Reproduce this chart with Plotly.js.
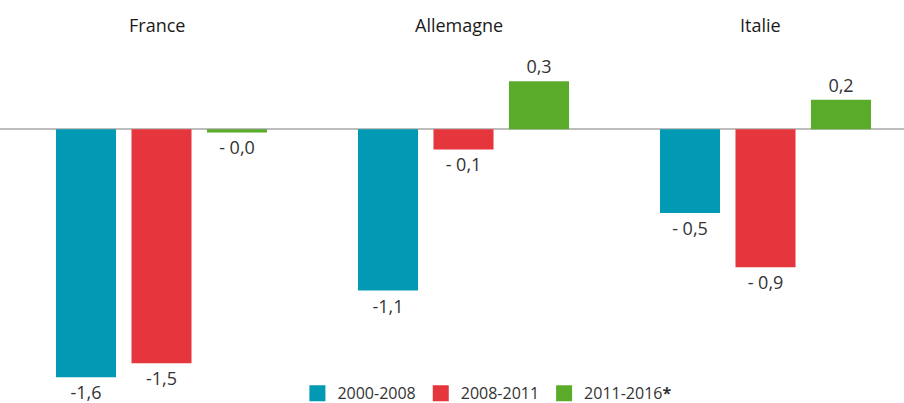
<!DOCTYPE html>
<html>
<head>
<meta charset="utf-8">
<script src="https://cdn.plot.ly/plotly-3.0.1.min.js"></script>
<style>html,body{margin:0;padding:0;background:#fff;}#chart{width:904px;height:403px;}</style>
</head>
<body>
<div id="chart"></div>
<script>
const countries = ["France", "Allemagne", "Italie"];
const seriesNames = ["2000-2008", "2008-2011", "2011-2016<b>*</b>"];
const values2000_2008 = [-1.6, -1.04, -0.54];
const values2008_2011 = [-1.51, -0.13, -0.89];
const values2011_2016 = [-0.02, 0.31, 0.19];
const labels2000_2008 = ["-1,6", "-1,1", "- 0,5"];
const labels2008_2011 = ["-1,5", "- 0,1", "- 0,9"];
const labels2011_2016 = ["- 0,0", "0,3", "0,2"];
const colors = ["#0199b3", "#e5353d", "#5aab2a"];

const allValues = [values2000_2008, values2008_2011, values2011_2016];
const allLabels = [labels2000_2008, labels2008_2011, labels2011_2016];

const traces = [];
allValues.forEach((vals, i) => {
  traces.push({
    type: "bar",
    x: countries,
    y: vals,
    text: allLabels[i],
    textposition: "outside",
    texttemplate: "%{text}",
    constraintext: "none",
    textfont: {family: "Open Sans, sans-serif", size: 18, color: "#333333"},
    cliponaxis: false,
    marker: {color: colors[i]},
    showlegend: false,
    hoverinfo: "skip"
  });
});
// legend proxies (square markers)
seriesNames.forEach((name, i) => {
  traces.push({
    type: "scatter",
    mode: "markers",
    x: [null],
    y: [null],
    name: name,
    marker: {symbol: "square", size: 16, color: colors[i]},
    showlegend: true,
    hoverinfo: "skip"
  });
});

const W = 904, H = 403;
const catPx = 302, firstCenter = 161.5;
const x0 = -firstCenter / catPx;
const x1 = x0 + W / catPx;
const zeroPx = 129.3, pxPerUnit = 155;
const yTop = zeroPx / pxPerUnit;
const yBot = -(H - zeroPx) / pxPerUnit;

const annotations = countries.map(c => ({
  x: c, xref: "x", y: 1, yref: "paper", yanchor: "top", yshift: -11, xshift: -5,
  text: c, showarrow: false,
  font: {family: "Open Sans, sans-serif", size: 18, color: "#1a1a1a"}
}));

const layout = {
  width: W, height: H,
  margin: {l: 0, r: 0, t: 0, b: 0, pad: 0, autoexpand: false},
  paper_bgcolor: "#ffffff",
  plot_bgcolor: "#ffffff",
  barmode: "group",
  bargap: 0.25,
  bargroupgap: 0.205,
  xaxis: {
    type: "category",
    range: [x0, x1],
    showticklabels: false, showgrid: false, zeroline: false, showline: false, ticks: ""
  },
  yaxis: {
    range: [yBot, yTop],
    showticklabels: false, showgrid: false,
    zeroline: true, zerolinecolor: "#bdbdbd", zerolinewidth: 2,
    showline: false, ticks: ""
  },
  showlegend: true,
  legend: {
    orientation: "h",
    x: 0.329, xanchor: "left",
    y: -0.018, yanchor: "bottom",
    font: {family: "Open Sans, sans-serif", size: 16, color: "#333333"},
    bgcolor: "rgba(0,0,0,0)",
    itemclick: false, itemdoubleclick: false
  },
  annotations: annotations
};

Plotly.newPlot("chart", traces, layout, {displayModeBar: false, staticPlot: true});
</script>
</body>
</html>
